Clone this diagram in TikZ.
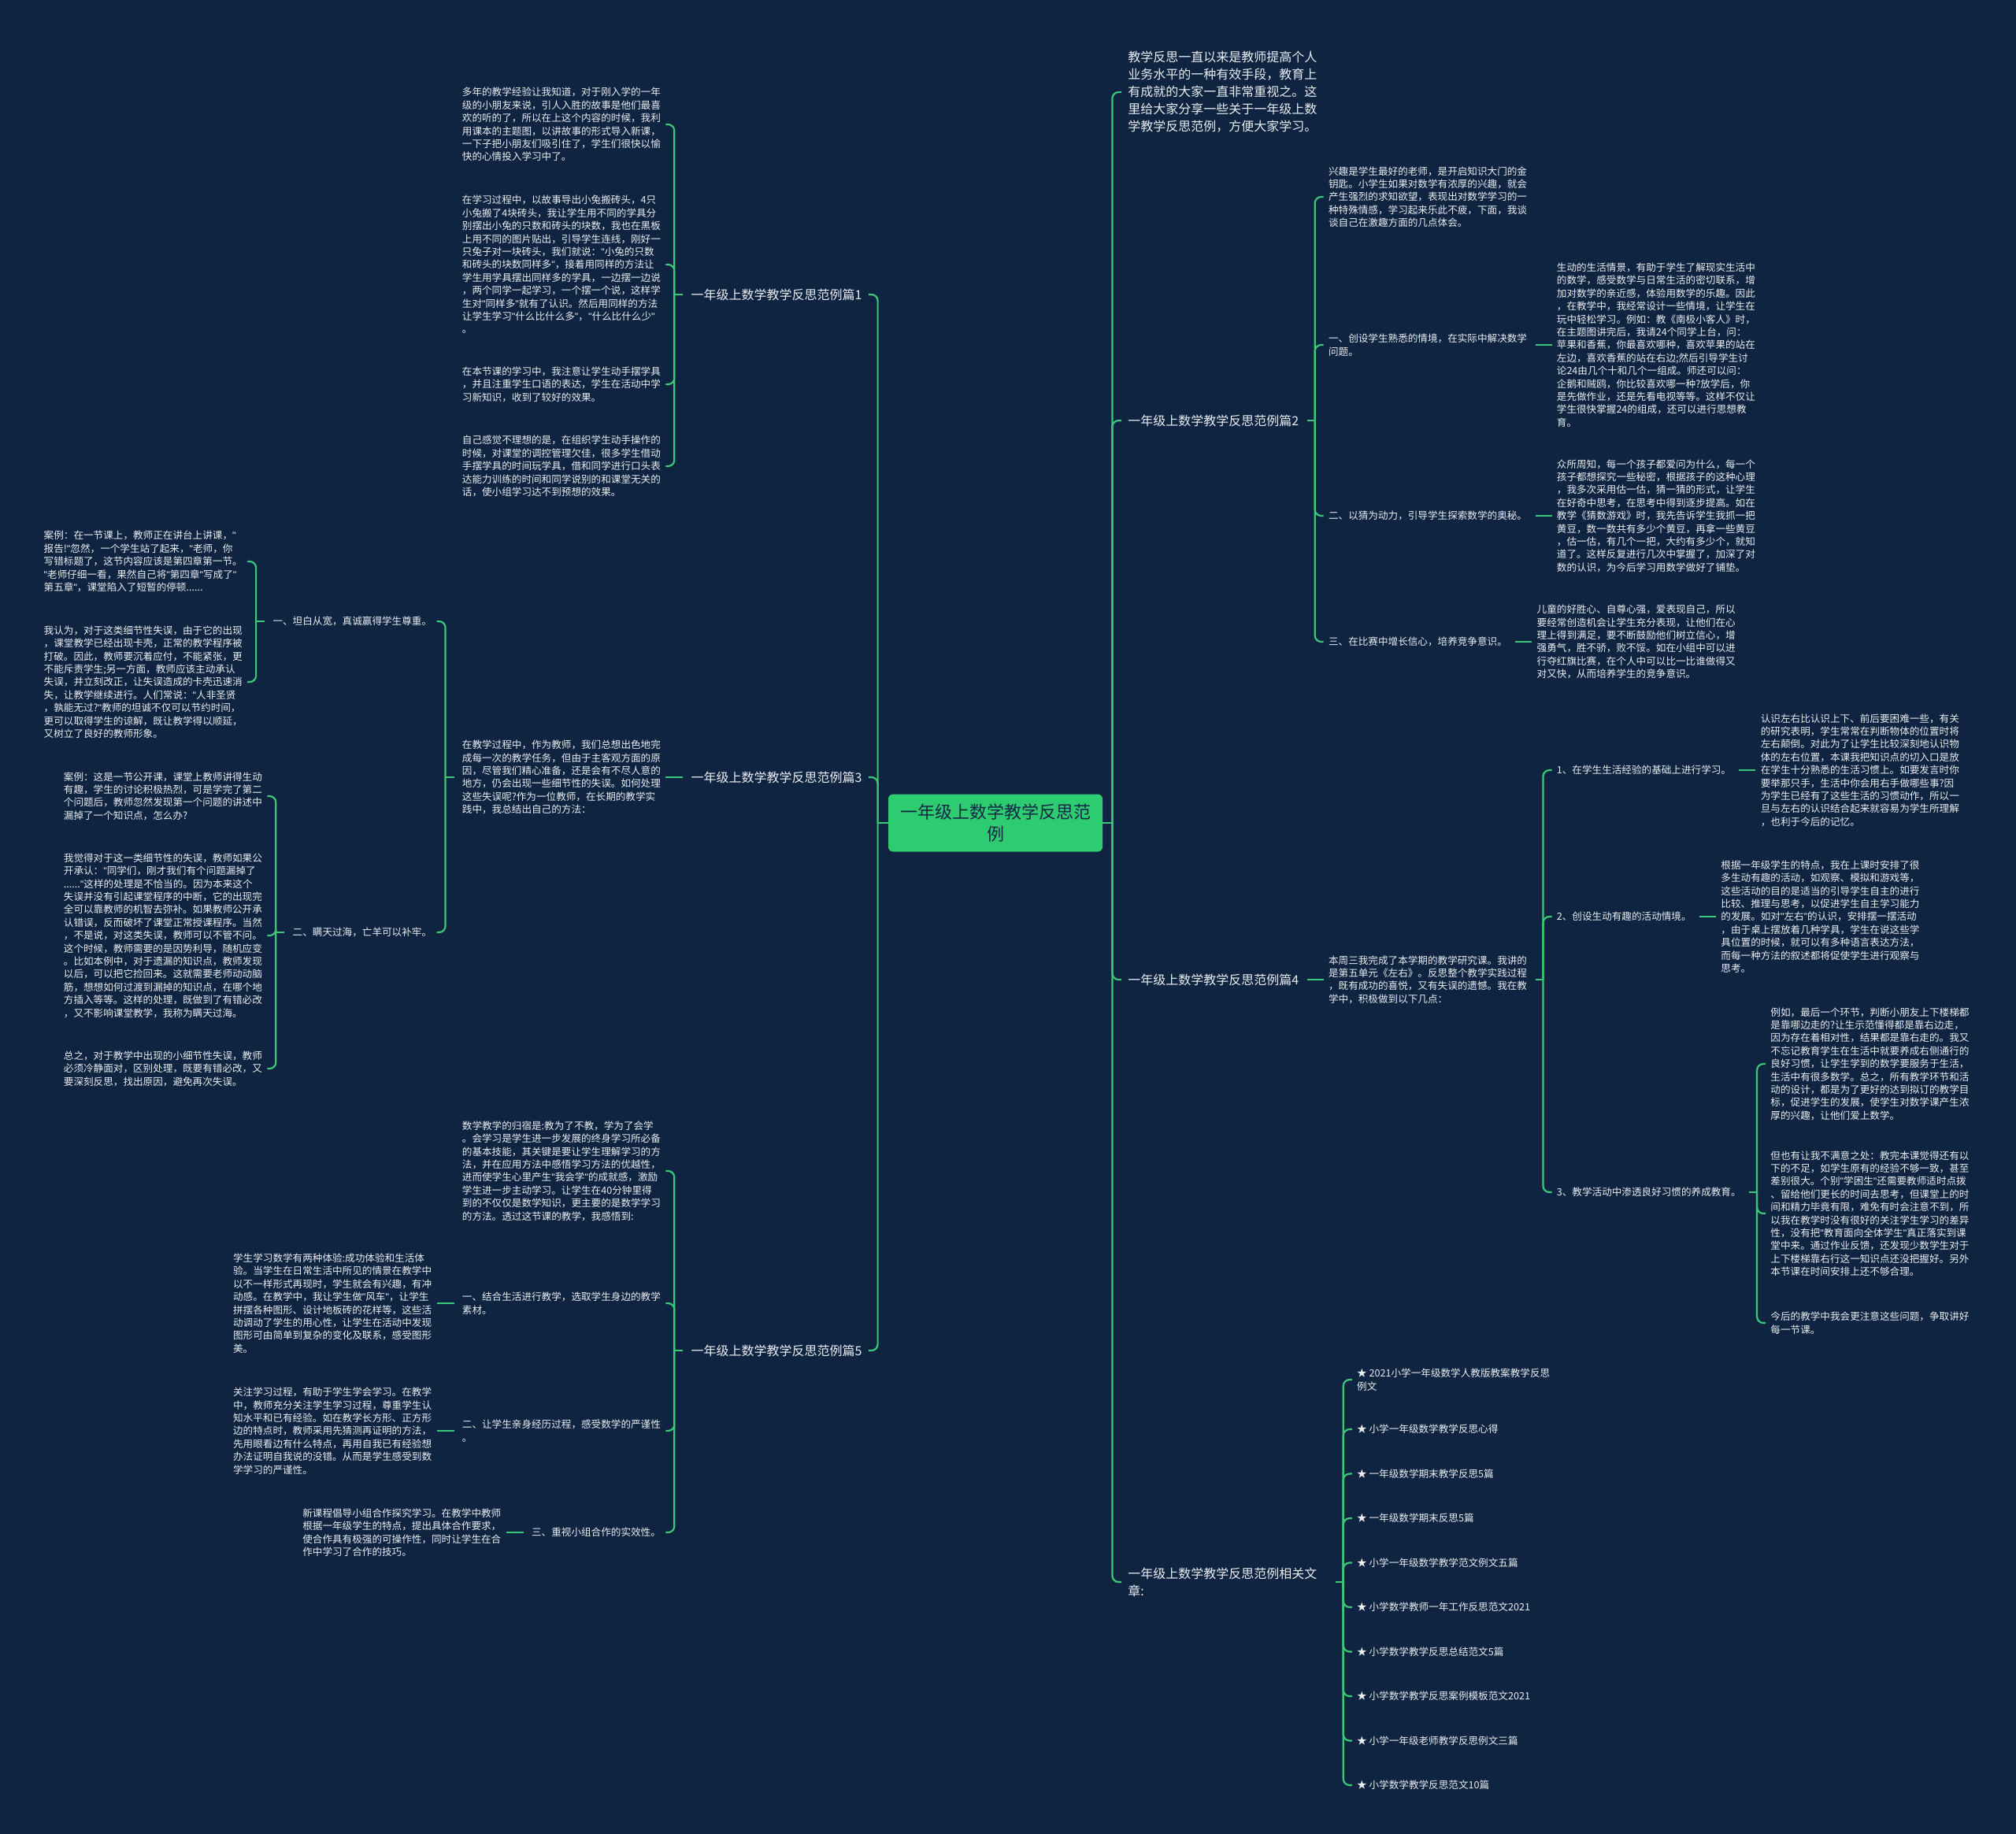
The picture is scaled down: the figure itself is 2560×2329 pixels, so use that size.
\documentclass[tikz,border=0pt]{standalone}
\usepackage{fontspec}
\setmainfont{Noto Sans CJK SC}
\newfontfamily\qf{Liberation Sans}
\newcommand\q{{\qf"}}
\usetikzlibrary{calc}
\definecolor{bg}{RGB}{14,36,64}
\definecolor{ln}{RGB}{60,200,120}
\definecolor{cg}{RGB}{46,204,113}
\definecolor{ct}{RGB}{22,40,70}
\definecolor{tx}{RGB}{235,238,242}
\newcommand\fsm{\fontsize{6.3pt}{8.2pt}\selectfont}
\newcommand\fmd{\fontsize{8pt}{11pt}\selectfont}
\newcommand\flg{\fontsize{11pt}{14pt}\selectfont}
\newcommand\brL[2]{%
  \draw[conn] ([xshift=-5pt]#1.west) -- ([xshift=-10.5pt]#1.west);
  \draw[conn,rounded corners=4pt] ([xshift=-10.5pt]#1.west) |- ([xshift=3pt]#2.east);}
\newcommand\brR[2]{%
  \draw[conn] ([xshift=5pt]#1.east) -- ([xshift=10pt]#1.east);
  \draw[conn,rounded corners=4pt] ([xshift=10pt]#1.east) |- ([xshift=-3pt]#2.west);}
\newcommand\sgL[2]{%
  \draw[conn] ([xshift=-5pt]#1.west) -- ($(#2.east |- #1.west)+(6,0)$);}
\newcommand\sgR[2]{%
  \draw[conn] ([xshift=5pt]#1.east) -- ($(#2.west |- #1.east)+(-6,0)$);}
\begin{document}
\begin{tikzpicture}[x=0.5pt,y=-0.5pt,
  sm/.style={font=\fsm,text=tx,align=left,inner sep=0pt},
  md/.style={font=\fmd,text=tx,align=left,inner sep=0pt},
  conn/.style={draw=ln,line width=1.1pt}]
\fill[bg] (0,0) rectangle (2560,2329);
\useasboundingbox (0,0) rectangle (2560,2329);

% central
\node[fill=cg,rounded corners=3pt,minimum width=136pt,minimum height=36.5pt,font=\flg,text=ct,align=center,inner sep=0pt] (C) at (1264,1045) {一年级上数学教学反思范\\例};

% ---------- left level 1
\node[md,anchor=east] (L1) at (1095,374) {一年级上数学教学反思范例篇1};
\node[md,anchor=east] (L3) at (1095,987) {一年级上数学教学反思范例篇3};
\node[md,anchor=east] (L5) at (1095,1715) {一年级上数学教学反思范例篇5};
\coordinate (L1l) at ([xshift=-19pt]L1.west);
\coordinate (L3l) at ([xshift=-19pt]L3.west);
\coordinate (L5l) at ([xshift=-19pt]L5.west);

% 篇1
\node[sm,anchor=east] (A) at (L1l |- 0,158) {多年的教学经验让我知道，对于刚入学的一年\\级的小朋友来说，引人入胜的故事是他们最喜\\欢的听的了，所以在上这个内容的时候，我利\\用课本的主题图，以讲故事的形式导入新课，\\一下子把小朋友们吸引住了，学生们很快以愉\\快的心情投入学习中了。};
\node[sm,anchor=east] (B) at (L1l |- 0,336) {在学习过程中，以故事导出小兔搬砖头，4只\\小兔搬了4块砖头，我让学生用不同的学具分\\别摆出小兔的只数和砖头的块数，我也在黑板\\上用不同的图片贴出，引导学生连线，刚好一\\只兔子对一块砖头，我们就说：\q{}小兔的只数\\和砖头的块数同样多\q{}，接着用同样的方法让\\学生用学具摆出同样多的学具，一边摆一边说\\，两个同学一起学习，一个摆一个说，这样学\\生对\q{}同样多\q{}就有了认识。然后用同样的方法\\让学生学习\q{}什么比什么多\q{}，\q{}什么比什么少\q{}\\。};
\node[sm,anchor=east] (Cc) at (L1l |- 0,488) {在本节课的学习中，我注意让学生动手摆学具\\，并且注重学生口语的表达，学生在活动中学\\习新知识，收到了较好的效果。};
\node[sm,anchor=east] (D) at (L1l |- 0,592) {自己感觉不理想的是，在组织学生动手操作的\\时候，对课堂的调控管理欠佳，很多学生借动\\手摆学具的时间玩学具，借和同学进行口头表\\达能力训练的时间和同学说别的和课堂无关的\\话，使小组学习达不到预想的效果。};

% 篇3
\node[sm,anchor=east] (I3) at (L3l |- 0,987) {在教学过程中，作为教师，我们总想出色地完\\成每一次的教学任务，但由于主客观方面的原\\因，尽管我们精心准备，还是会有不尽人意的\\地方，仍会出现一些细节性的失误。如何处理\\这些失误呢?作为一位教师，在长期的教学实\\践中，我总结出自己的方法：};
\coordinate (I3l) at ([xshift=-19pt]I3.west);
\node[sm,anchor=east] (J1) at (I3l |- 0,789) {一、坦白从宽，真诚赢得学生尊重。};
\node[sm,anchor=east] (J2) at (I3l |- 0,1184) {二、瞒天过海，亡羊可以补牢。};
\coordinate (J1l) at ([xshift=-19pt]J1.west);
\coordinate (J2l) at ([xshift=-19pt]J2.west);
\node[sm,anchor=east] (K1) at (J1l |- 0,713) {案例：在一节课上，教师正在讲台上讲课，\q{}\\报告!\q{}忽然，一个学生站了起来，\q{}老师，你\\写错标题了，这节内容应该是第四章第一节。\\\q{}老师仔细一看，果然自己将\q{}第四章\q{}写成了\q{}\\第五章\q{}，课堂陷入了短暂的停顿......};
\node[sm,anchor=east] (K2) at (J1l |- 0,866) {我认为，对于这类细节性失误，由于它的出现\\，课堂教学已经出现卡壳，正常的教学程序被\\打破。因此，教师要沉着应付，不能紧张，更\\不能斥责学生;另一方面，教师应该主动承认\\失误，并立刻改正，让失误造成的卡壳迅速消\\失，让教学继续进行。人们常说：\q{}人非圣贤\\，孰能无过?\q{}教师的坦诚不仅可以节约时间，\\更可以取得学生的谅解，既让教学得以顺延，\\又树立了良好的教师形象。};
\node[sm,anchor=east] (K3) at (J2l |- 0,1011) {案例：这是一节公开课，课堂上教师讲得生动\\有趣，学生的讨论积极热烈，可是学完了第二\\个问题后，教师忽然发现第一个问题的讲述中\\漏掉了一个知识点，怎么办?};
\node[sm,anchor=east] (K4) at (J2l |- 0,1188) {我觉得对于这一类细节性的失误，教师如果公\\开承认：\q{}同学们，刚才我们有个问题漏掉了\\......\q{}这样的处理是不恰当的。因为本来这个\\失误并没有引起课堂程序的中断，它的出现完\\全可以靠教师的机智去弥补。如果教师公开承\\认错误，反而破坏了课堂正常授课程序。当然\\，不是说，对这类失误，教师可以不管不问。\\这个时候，教师需要的是因势利导，随机应变\\。比如本例中，对于遗漏的知识点，教师发现\\以后，可以把它捡回来。这就需要老师动动脑\\筋，想想如何过渡到漏掉的知识点，在哪个地\\方插入等等。这样的处理，既做到了有错必改\\，又不影响课堂教学，我称为瞒天过海。};
\node[sm,anchor=east] (K5) at (J2l |- 0,1357) {总之，对于教学中出现的小细节性失误，教师\\必须冷静面对，区别处理，既要有错必改，又\\要深刻反思，找出原因，避免再次失误。};

% 篇5
\node[sm,anchor=east] (I5) at (L5l |- 0,1487) {数学教学的归宿是:教为了不教，学为了会学\\。会学习是学生进一步发展的终身学习所必备\\的基本技能，其关键是要让学生理解学习的方\\法，并在应用方法中感悟学习方法的优越性，\\进而使学生心里产生\q{}我会学\q{}的成就感，激励\\学生进一步主动学习。让学生在40分钟里得\\到的不仅仅是数学知识，更主要的是数学学习\\的方法。透过这节课的教学，我感悟到:};
\node[sm,anchor=east] (M1) at (L5l |- 0,1655) {一、结合生活进行教学，选取学生身边的教学\\素材。};
\node[sm,anchor=east] (M2) at (L5l |- 0,1817) {二、让学生亲身经历过程，感受数学的严谨性\\。};
\node[sm,anchor=east] (M3) at (L5l |- 0,1946) {三、重视小组合作的实效性。};
\coordinate (M1l) at ([xshift=-19pt]M1.west);
\coordinate (M2l) at ([xshift=-19pt]M2.west);
\coordinate (M3l) at ([xshift=-19pt]M3.west);
\node[sm,anchor=east] (N1) at (M1l |- 0,1655) {学生学习数学有两种体验:成功体验和生活体\\验。当学生在日常生活中所见的情景在教学中\\以不一样形式再现时，学生就会有兴趣，有冲\\动感。在教学中，我让学生做\q{}风车\q{}，让学生\\拼摆各种图形、设计地板砖的花样等，这些活\\动调动了学生的用心性，让学生在活动中发现\\图形可由简单到复杂的变化及联系，感受图形\\美。};
\node[sm,anchor=east] (N2) at (M2l |- 0,1817) {关注学习过程，有助于学生学会学习。在教学\\中，教师充分关注学生学习过程，尊重学生认\\知水平和已有经验。如在教学长方形、正方形\\边的特点时，教师采用先猜测再证明的方法，\\先用眼看边有什么特点，再用自我已有经验想\\办法证明自我说的没错。从而是学生感受到数\\学学习的严谨性。};
\node[sm,anchor=east] (N3) at (M3l |- 0,1946) {新课程倡导小组合作探究学习。在教学中教师\\根据一年级学生的特点，提出具体合作要求，\\使合作具有极强的可操作性，同时让学生在合\\作中学习了合作的技巧。};

% ---------- right level 1
\node[md,anchor=west] (R0) at (1432,117) {教学反思一直以来是教师提高个人\\业务水平的一种有效手段，教育上\\有成就的大家一直非常重视之。这\\里给大家分享一些关于一年级上数\\学教学反思范例，方便大家学习。};
\node[md,anchor=west] (R2) at (1432,534) {一年级上数学教学反思范例篇2};
\node[md,anchor=west] (R4) at (1432,1244) {一年级上数学教学反思范例篇4};
\node[md,anchor=west,text width=126.5pt] (R6) at (1432,2009) {一年级上数学教学反思范例相关文\\章:};
\coordinate (R2r) at ([xshift=18.5pt]R2.east);
\coordinate (R4r) at ([xshift=18.5pt]R4.east);
\coordinate (R6r) at ([xshift=18.5pt]R6.east);

% 篇2
\node[sm,anchor=west] (S0) at (R2r |- 0,250) {兴趣是学生最好的老师，是开启知识大门的金\\钥匙。小学生如果对数学有浓厚的兴趣，就会\\产生强烈的求知欲望，表现出对数学学习的一\\种特殊情感，学习起来乐此不疲，下面，我谈\\谈自己在激趣方面的几点体会。};
\node[sm,anchor=west] (S1) at (R2r |- 0,438) {一、创设学生熟悉的情境，在实际中解决数学\\问题。};
\node[sm,anchor=west] (S2) at (R2r |- 0,655) {二、以猜为动力，引导学生探索数学的奥秘。};
\node[sm,anchor=west] (S3) at (R2r |- 0,815) {三、在比赛中增长信心，培养竞争意识。};
\coordinate (S1r) at ([xshift=18.5pt]S1.east);
\coordinate (S2r) at ([xshift=18.5pt]S2.east);
\coordinate (S3r) at ([xshift=18.5pt]S3.east);
\node[sm,anchor=west] (T1) at (S1r |- 0,438) {生动的生活情景，有助于学生了解现实生活中\\的数学，感受数学与日常生活的密切联系，增\\加对数学的亲近感，体验用数学的乐趣。因此\\，在教学中，我经常设计一些情境，让学生在\\玩中轻松学习。例如：教《南极小客人》时，\\在主题图讲完后，我请24个同学上台，问：\\苹果和香蕉，你最喜欢哪种，喜欢苹果的站在\\左边，喜欢香蕉的站在右边;然后引导学生讨\\论24由几个十和几个一组成。师还可以问：\\企鹅和贼鸥，你比较喜欢哪一种?放学后，你\\是先做作业，还是先看电视等等。这样不仅让\\学生很快掌握24的组成，还可以进行思想教\\育。};
\node[sm,anchor=west] (T2) at (S2r |- 0,655) {众所周知，每一个孩子都爱问为什么，每一个\\孩子都想探究一些秘密，根据孩子的这种心理\\，我多次采用估一估，猜一猜的形式，让学生\\在好奇中思考，在思考中得到逐步提高。如在\\教学《猜数游戏》时，我先告诉学生我抓一把\\黄豆，数一数共有多少个黄豆，再拿一些黄豆\\，估一估，有几个一把，大约有多少个，就知\\道了。这样反复进行几次中掌握了，加深了对\\数的认识，为今后学习用数学做好了铺垫。};
\node[sm,anchor=west] (T3) at (S3r |- 0,815) {儿童的好胜心、自尊心强，爱表现自己，所以\\要经常创造机会让学生充分表现，让他们在心\\理上得到满足，要不断鼓励他们树立信心，增\\强勇气，胜不骄，败不馁。如在小组中可以进\\行夺红旗比赛，在个人中可以比一比谁做得又\\对又快，从而培养学生的竞争意识。};

% 篇4
\node[sm,anchor=west] (U0) at (R4r |- 0,1244) {本周三我完成了本学期的教学研究课。我讲的\\是第五单元《左右》。反思整个教学实践过程\\，既有成功的喜悦，又有失误的遗憾。我在教\\学中，积极做到以下几点：};
\coordinate (U0r) at ([xshift=18.5pt]U0.east);
\node[sm,anchor=west] (V1) at (U0r |- 0,978) {1、在学生生活经验的基础上进行学习。};
\node[sm,anchor=west] (V2) at (U0r |- 0,1164) {2、创设生动有趣的活动情境。};
\node[sm,anchor=west] (V3) at (U0r |- 0,1514) {3、教学活动中渗透良好习惯的养成教育。};
\coordinate (V1r) at ([xshift=18.5pt]V1.east);
\coordinate (V2r) at ([xshift=18.5pt]V2.east);
\coordinate (V3r) at ([xshift=18.5pt]V3.east);
\node[sm,anchor=west] (W1) at (V1r |- 0,978) {认识左右比认识上下、前后要困难一些，有关\\的研究表明，学生常常在判断物体的位置时将\\左右颠倒。对此为了让学生比较深刻地认识物\\体的左右位置，本课我把知识点的切入口是放\\在学生十分熟悉的生活习惯上。如要发言时你\\要举那只手，生活中你会用右手做哪些事?因\\为学生已经有了这些生活的习惯动作，所以一\\旦与左右的认识结合起来就容易为学生所理解\\，也利于今后的记忆。};
\node[sm,anchor=west] (W2) at (V2r |- 0,1164) {根据一年级学生的特点，我在上课时安排了很\\多生动有趣的活动，如观察、模拟和游戏等，\\这些活动的目的是适当的引导学生自主的进行\\比较、推理与思考，以促进学生自主学习能力\\的发展。如对\q{}左右\q{}的认识，安排摆一摆活动\\，由于桌上摆放着几种学具，学生在说这些学\\具位置的时候，就可以有多种语言表达方法，\\而每一种方法的叙述都将促使学生进行观察与\\思考。};
\node[sm,anchor=west] (X1) at (V3r |- 0,1351) {例如，最后一个环节，判断小朋友上下楼梯都\\是靠哪边走的?让生示范懂得都是靠右边走，\\因为存在着相对性，结果都是靠右走的。我又\\不忘记教育学生在生活中就要养成右侧通行的\\良好习惯，让学生学到的数学要服务于生活，\\生活中有很多数学。总之，所有教学环节和活\\动的设计，都是为了更好的达到拟订的教学目\\标，促进学生的发展，使学生对数学课产生浓\\厚的兴趣，让他们爱上数学。};
\node[sm,anchor=west] (X2) at (V3r |- 0,1541) {但也有让我不满意之处：教完本课觉得还有以\\下的不足，如学生原有的经验不够一致，甚至\\差别很大。个别\q{}学困生\q{}还需要教师适时点拨\\、留给他们更长的时间去思考，但课堂上的时\\间和精力毕竟有限，难免有时会注意不到，所\\以我在教学时没有很好的关注学生学习的差异\\性，没有把\q{}教育面向全体学生\q{}真正落实到课\\堂中来。通过作业反馈，还发现少数学生对于\\上下楼梯靠右行这一知识点还没把握好。另外\\本节课在时间安排上还不够合理。};
\node[sm,anchor=west] (X3) at (V3r |- 0,1680) {今后的教学中我会更注意这些问题，争取讲好\\每一节课。};

% related
\node[sm,anchor=west] (Q1) at (R6r |- 0,1752) {★ 2021小学一年级数学人教版教案教学反思\\例文};
\node[sm,anchor=west] (Q2) at (R6r |- 0,1815) {★ 小学一年级数学教学反思心得};
\node[sm,anchor=west] (Q3) at (R6r |- 0,1871.5) {★ 一年级数学期末教学反思5篇};
\node[sm,anchor=west] (Q4) at (R6r |- 0,1928) {★ 一年级数学期末反思5篇};
\node[sm,anchor=west] (Q5) at (R6r |- 0,1984.5) {★ 小学一年级数学教学范文例文五篇};
\node[sm,anchor=west] (Q6) at (R6r |- 0,2041) {★ 小学数学教师一年工作反思范文2021};
\node[sm,anchor=west] (Q7) at (R6r |- 0,2097.5) {★ 小学数学教学反思总结范文5篇};
\node[sm,anchor=west] (Q8) at (R6r |- 0,2154) {★ 小学数学教学反思案例模板范文2021};
\node[sm,anchor=west] (Q9) at (R6r |- 0,2210.5) {★ 小学一年级老师教学反思例文三篇};
\node[sm,anchor=west] (Q10) at (R6r |- 0,2267) {★ 小学数学教学反思范文10篇};

% ---------- connectors
\draw[conn] (C.west) -- ++(-13,0) coordinate (TL);
\foreach \n in {L1,L3,L5}
  \draw[conn,rounded corners=4pt] (TL) |- ([xshift=4pt]\n.east);
\draw[conn] (C.east) -- ++(12,0) coordinate (TR);
\foreach \n in {R0,R2,R4,R6}
  \draw[conn,rounded corners=4pt] (TR) |- ([xshift=-4pt]\n.west);

\foreach \c in {A,B,Cc,D} {\brL{L1}{\c}}
\sgL{L3}{I3}
\brL{I3}{J1}
\brL{I3}{J2}
\brL{J1}{K1}
\brL{J1}{K2}
\foreach \c in {K3,K4,K5} {\brL{J2}{\c}}
\foreach \c in {I5,M1,M2,M3} {\brL{L5}{\c}}
\sgL{M1}{N1}
\sgL{M2}{N2}
\sgL{M3}{N3}

\foreach \c in {S0,S1,S2,S3} {\brR{R2}{\c}}
\sgR{S1}{T1}
\sgR{S2}{T2}
\sgR{S3}{T3}
\sgR{R4}{U0}
\foreach \c in {V1,V2,V3} {\brR{U0}{\c}}
\sgR{V1}{W1}
\sgR{V2}{W2}
\foreach \c in {X1,X2,X3} {\brR{V3}{\c}}
\foreach \c in {Q1,Q2,Q3,Q4,Q5,Q6,Q7,Q8,Q9,Q10} {\brR{R6}{\c}}
\end{tikzpicture}
\end{document}
